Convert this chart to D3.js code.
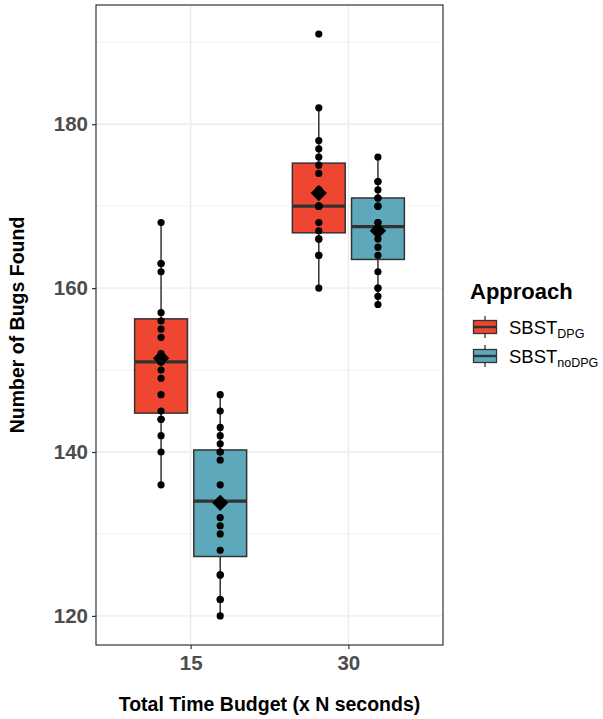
<!DOCTYPE html>
<html>
<head>
<meta charset="utf-8">
<script src="https://cdn.jsdelivr.net/npm/d3@7"></script>
<style>
  body { margin: 0; background: #fff; }
  svg text { font-family: 'Liberation Sans', Arial, sans-serif; }
</style>
</head>
<body>
<div id="chart"></div>
<script>
(function() {

  // values, one list per box
  var budgets = ['15', '30'];
  var approaches = ['DPG', 'noDPG'];
  var colours = ['#ee4631', '#5da8bb'];

  var dpg15 = [136, 140, 142, 144, 144, 145, 147, 149, 150, 151, 151, 152, 154, 155, 156, 157, 162, 163, 163, 168];
  var noDpg15 = [120, 122, 122, 125, 125, 128, 130, 131, 132, 134, 134, 136, 139, 140, 140, 141, 142, 143, 145, 147];
  var dpg30 = [160, 164, 164, 166, 166, 167, 168, 170, 170, 170, 170, 172, 172, 174, 175, 176, 177, 178, 182, 191];
  var noDpg30 = [158, 159, 160, 160, 162, 164, 165, 166, 167, 167, 168, 168, 170, 170, 171, 171, 172, 173, 173, 176];

  var yTicks = [120, 140, 160, 180];
  var yMinor = [130, 150, 170, 190];

  var groups = [
    {budget: '15', approach: 'DPG', values: dpg15},
    {budget: '15', approach: 'noDPG', values: noDpg15},
    {budget: '30', approach: 'DPG', values: dpg30},
    {budget: '30', approach: 'noDPG', values: noDpg30}
  ];

  groups.forEach(function(g) {
    var v = g.values.slice().sort(d3.ascending);
    g.q1 = d3.quantile(v, 0.25);
    g.med = d3.quantile(v, 0.5);
    g.q3 = d3.quantile(v, 0.75);
    var iqr = g.q3 - g.q1;
    g.lo = d3.min(v.filter(function(d) { return d >= g.q1 - 1.5 * iqr; }));
    g.hi = d3.max(v.filter(function(d) { return d <= g.q3 + 1.5 * iqr; }));
    g.mean = d3.mean(v);
  });

  var width = 603, height = 719;
  var panel = {left: 96, right: 443, top: 5, bottom: 645};

  var svg = d3.select('#chart')
              .append('svg')
              .attr('width', width)
              .attr('height', height);

  var all = d3.merge(groups.map(function(g) { return g.values; }));
  var ext = d3.extent(all);
  var pad = (ext[1] - ext[0]) * 0.05;

  var y = d3.scaleLinear()
    .domain([ext[0] - pad, ext[1] + pad])
    .range([panel.bottom, panel.top]);

  // discrete x like ggplot: positions 1..n with 0.6 expansion
  var xPos = d3.scaleLinear()
    .domain([0.4, budgets.length + 0.6])
    .range([panel.left, panel.right]);
  var x = function(b) { return xPos(budgets.indexOf(b) + 1); };
  var dodge = function(a) { return (approaches.indexOf(a) === 0 ? -0.1875 : 0.1875); };
  var cx = function(g) { return xPos(budgets.indexOf(g.budget) + 1 + dodge(g.approach)); };
  var boxW = xPos(1.335) - xPos(1);
  var fill = d3.scaleOrdinal().domain(approaches).range(colours);

  // grid
  var grid = svg.append('g');
  grid.selectAll('.minor')
    .data(yMinor)
    .enter()
    .append('line')
    .attr('x1', panel.left).attr('x2', panel.right)
    .attr('y1', function(d) { return y(d); })
    .attr('y2', function(d) { return y(d); })
    .attr('stroke', '#f2f2f2')
    .attr('stroke-width', 1);
  grid.selectAll('.major')
    .data(yTicks)
    .enter()
    .append('line')
    .attr('x1', panel.left).attr('x2', panel.right)
    .attr('y1', function(d) { return y(d); })
    .attr('y2', function(d) { return y(d); })
    .attr('stroke', '#ebebeb')
    .attr('stroke-width', 1.3);
  grid.selectAll('.vmajor')
    .data(budgets)
    .enter()
    .append('line')
    .attr('x1', function(d) { return x(d); })
    .attr('x2', function(d) { return x(d); })
    .attr('y1', panel.top).attr('y2', panel.bottom)
    .attr('stroke', '#ebebeb')
    .attr('stroke-width', 1.3);

  // boxes
  var boxes = svg.append('g')
    .selectAll('g')
    .data(groups)
    .enter()
    .append('g');

  boxes.append('line')
    .attr('x1', cx).attr('x2', cx)
    .attr('y1', function(g) { return y(g.lo); })
    .attr('y2', function(g) { return y(g.hi); })
    .attr('stroke', '#333')
    .attr('stroke-width', 1.5);

  boxes.append('rect')
    .attr('x', function(g) { return cx(g) - boxW / 2; })
    .attr('width', boxW)
    .attr('y', function(g) { return y(g.q3); })
    .attr('height', function(g) { return y(g.q1) - y(g.q3); })
    .attr('fill', function(g) { return fill(g.approach); })
    .attr('stroke', '#333')
    .attr('stroke-width', 1.5);

  boxes.append('line')
    .attr('x1', function(g) { return cx(g) - boxW / 2; })
    .attr('x2', function(g) { return cx(g) + boxW / 2; })
    .attr('y1', function(g) { return y(g.med); })
    .attr('y2', function(g) { return y(g.med); })
    .attr('stroke', '#333')
    .attr('stroke-width', 3.2);

  // raw points
  boxes.selectAll('circle')
    .data(function(g) { return g.values.map(function(v) { return {g: g, v: v}; }); })
    .enter()
    .append('circle')
    .attr('cx', function(d) { return cx(d.g); })
    .attr('cy', function(d) { return y(d.v); })
    .attr('r', 3.6)
    .attr('fill', '#000');

  // mean diamond
  boxes.append('path')
    .attr('d', d3.symbol().type(d3.symbolDiamond2).size(170))
    .attr('transform', function(g) { return 'translate(' + cx(g) + ',' + y(g.mean) + ')'; })
    .attr('fill', '#000');

  // panel border
  svg.append('rect')
    .attr('x', panel.left).attr('y', panel.top)
    .attr('width', panel.right - panel.left)
    .attr('height', panel.bottom - panel.top)
    .attr('fill', 'none')
    .attr('stroke', '#333')
    .attr('stroke-width', 1.2);

  // axes
  var yAxis = svg.append('g')
    .attr('transform', 'translate(' + panel.left + ',0)')
    .call(d3.axisLeft(y).tickValues(yTicks).tickSize(4).tickPadding(4));
  var xAxis = svg.append('g')
    .attr('transform', 'translate(0,' + panel.bottom + ')')
    .call(d3.axisBottom(xPos).tickValues([1, 2]).tickFormat(function(d) { return budgets[d - 1]; }).tickSize(4).tickPadding(6));

  [yAxis, xAxis].forEach(function(ax) {
    ax.select('.domain').remove();
    ax.selectAll('.tick line').attr('stroke', '#333').attr('stroke-width', 1.2);
    ax.selectAll('.tick text')
      .attr('fill', '#4d4d4d')
      .attr('font-size', 20.5)
      .attr('font-weight', 'bold')
      .attr('font-family', "'Liberation Sans', Arial, sans-serif");
  });

  svg.append('text')
    .attr('x', (panel.left + panel.right) / 2)
    .attr('y', 711)
    .attr('text-anchor', 'middle')
    .attr('font-size', 19.5)
    .attr('font-weight', 'bold')
    .text('Total Time Budget (x N seconds)');

  svg.append('text')
    .attr('transform', 'translate(24,' + (panel.top + panel.bottom) / 2 + ') rotate(-90)')
    .attr('text-anchor', 'middle')
    .attr('font-size', 19.5)
    .attr('font-weight', 'bold')
    .text('Number of Bugs Found');

  // legend
  var legend = svg.append('g');
  legend.append('text')
    .attr('x', 470)
    .attr('y', 299)
    .attr('font-size', 22)
    .attr('font-weight', 'bold')
    .text('Approach');

  var keys = legend.selectAll('.key')
    .data(approaches)
    .enter()
    .append('g')
    .attr('transform', function(d, i) { return 'translate(485,' + (327 + i * 29) + ')'; });

  keys.append('line')
    .attr('x1', 0).attr('x2', 0)
    .attr('y1', -11).attr('y2', 11)
    .attr('stroke', '#333')
    .attr('stroke-width', 1.3);
  keys.append('rect')
    .attr('x', -11.5).attr('y', -6.5)
    .attr('width', 23).attr('height', 13)
    .attr('fill', function(d) { return fill(d); })
    .attr('stroke', '#333')
    .attr('stroke-width', 1.3);
  keys.append('line')
    .attr('x1', -11.5).attr('x2', 11.5)
    .attr('y1', 0).attr('y2', 0)
    .attr('stroke', '#333')
    .attr('stroke-width', 2.4);

  var labels = keys.append('text')
    .attr('x', 24)
    .attr('y', 7)
    .attr('font-size', 18.5);
  labels.append('tspan').text('SBST');
  labels.append('tspan')
    .attr('dy', 4)
    .attr('font-size', 12.5)
    .text(function(d) { return d; });

})()
</script>
</body>
</html>
